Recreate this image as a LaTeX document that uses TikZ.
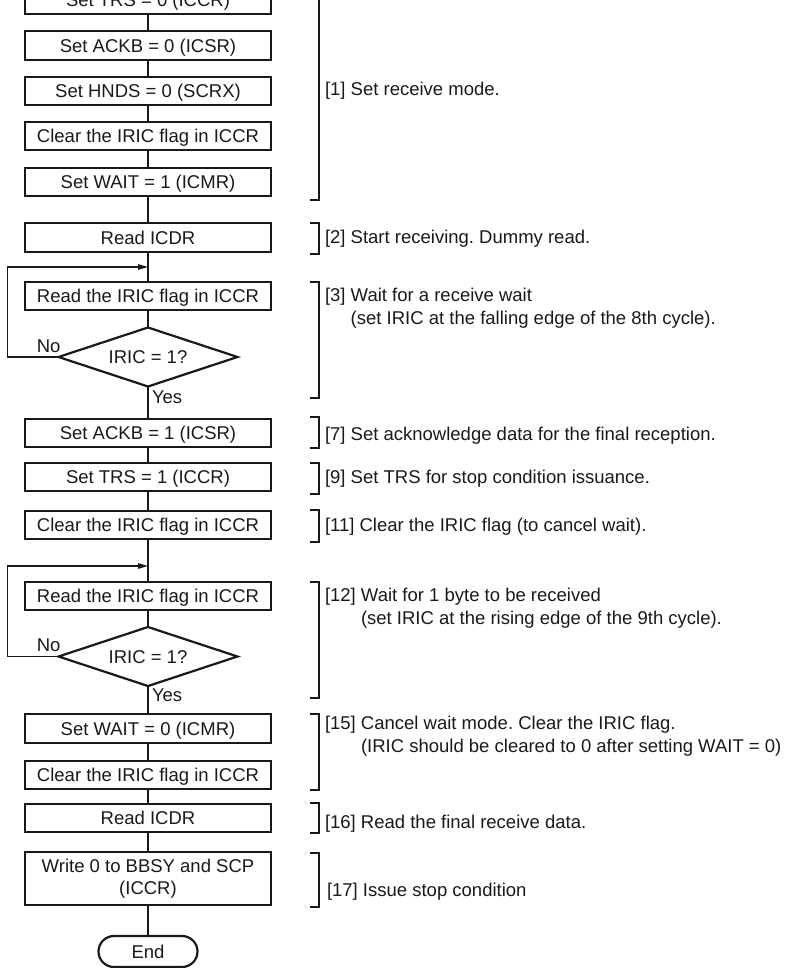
\documentclass[tikz,border=0pt]{standalone}
\usepackage{fontspec}
\setmainfont{Liberation Sans}
\usetikzlibrary{arrows.meta,shapes.geometric}
\frenchspacing
\definecolor{FlowInk}{gray}{0.1}
\tikzset{
    flow/diagram/.style={
        x=1pt, y=-1pt,
        font=\fontsize{18.5}{22.5}\selectfont,
        color=FlowInk,
        text=FlowInk,
        every node/.style={inner sep=0pt, outer sep=0pt}
    },
    flow/process/.style={
        rectangle, draw=FlowInk, line width=2.2pt,
        minimum width=246pt, minimum height=28.5pt,
        text height=13.3pt, text depth=0pt
    },
    flow/decision/.style={
        diamond, draw=FlowInk, line width=2.2pt, shape aspect=3,
        minimum width=179pt, minimum height=59pt,
        text height=13.3pt, text depth=0pt
    },
    flow/terminal/.style={
        rectangle, rounded corners=15.5pt, draw=FlowInk, line width=2.2pt,
        minimum width=99pt, minimum height=31pt,
        text height=13.3pt, text depth=0pt
    },
    flow/line/.style={draw=FlowInk, line width=1.2pt},
    flow/loop/.style={
        draw=FlowInk, line width=1.2pt,
        -{Triangle[length=10pt, width=5.5pt]}
    },
    flow/bracket/.style={draw=FlowInk, line width=1.1pt},
    flow/note/.style={anchor=base west, align=left},
    flow/answer/.style={text height=13.3pt, text depth=0pt}
}

\begin{document}
\begin{tikzpicture}[flow/diagram]
    \useasboundingbox (0,0) rectangle (789,968);
    \clip (0,0) rectangle (789,968);
    % main column
    \node[flow/process] (SetTrsZero)  at (148,0)     {Set TRS = 0 (ICCR)};
    \node[flow/process] (SetAckbZero) at (148,45.5)  {Set ACKB = 0 (ICSR)};
    \node[flow/process] (SetHnds)     at (148,91)    {Set HNDS = 0 (SCRX)};
    \node[flow/process] (ClearIricA)  at (148,136)   {Clear the IRIC flag in ICCR};
    \node[flow/process] (SetWaitOne)  at (148,182)   {Set WAIT = 1 (ICMR)};
    \node[flow/process] (ReadIcdrA)   at (148,237.5) {Read ICDR};
    \coordinate (JoinA) at (148,267);
    \node[flow/process] (ReadIricA)   at (148,296)   {Read the IRIC flag in ICCR};
    \node[flow/decision] (TestIricA)  at (148,357)   {IRIC = 1?};
    \node[flow/process] (SetAckbOne)  at (148,433)   {Set ACKB = 1 (ICSR)};
    \node[flow/process] (SetTrsOne)   at (148,477)   {Set TRS = 1 (ICCR)};
    \node[flow/process] (ClearIricB)  at (148,525)   {Clear the IRIC flag in ICCR};
    \coordinate (JoinB) at (148,566);
    \node[flow/process] (ReadIricB)   at (148,596)   {Read the IRIC flag in ICCR};
    \node[flow/decision] (TestIricB)  at (148,656.5) {IRIC = 1?};
    \node[flow/process] (SetWaitZero) at (148,728.5) {Set WAIT = 0 (ICMR)};
    \node[flow/process] (ClearIricC)  at (148,775)   {Clear the IRIC flag in ICCR};
    \node[flow/process] (ReadIcdrB)   at (148,818)   {Read ICDR};
    \node[flow/process, minimum height=53pt, align=center,
        text height=, text depth=] (WriteStop) at (148,878.5)
        {Write 0 to BBSY and SCP\\(ICCR)};
    \node[flow/terminal] (End) at (148,951.5) {End};
    % connectors
    \draw[flow/line] (SetTrsZero) -- (SetAckbZero);
    \draw[flow/line] (SetAckbZero) -- (SetHnds);
    \draw[flow/line] (SetHnds) -- (ClearIricA);
    \draw[flow/line] (ClearIricA) -- (SetWaitOne);
    \draw[flow/line] (SetWaitOne) -- (ReadIcdrA);
    \draw[flow/line] (ReadIcdrA) -- (ReadIricA);
    \draw[flow/line] (ReadIricA) -- (TestIricA);
    \draw[flow/line] (TestIricA) -- node[pos=0.33, anchor=west, xshift=4pt, flow/answer] {Yes} (SetAckbOne);
    \draw[flow/loop] (TestIricA.west)
        -- node[pos=0, anchor=south east, xshift=2pt, yshift=5pt, flow/answer] {No} ++(-51,0)
        |- (JoinA);
    \draw[flow/line] (SetAckbOne) -- (SetTrsOne);
    \draw[flow/line] (SetTrsOne) -- (ClearIricB);
    \draw[flow/line] (ClearIricB) -- (ReadIricB);
    \draw[flow/line] (ReadIricB) -- (TestIricB);
    \draw[flow/line] (TestIricB) -- node[pos=0.33, anchor=west, xshift=4pt, flow/answer] {Yes} (SetWaitZero);
    \draw[flow/loop] (TestIricB.west)
        -- node[pos=0, anchor=south east, xshift=2pt, yshift=5pt, flow/answer] {No} ++(-51,0)
        |- (JoinB);
    \draw[flow/line] (SetWaitZero) -- (ClearIricC);
    \draw[flow/line] (ClearIricC) -- (ReadIcdrB);
    \draw[flow/line] (ReadIcdrB) -- (WriteStop);
    \draw[flow/line] (WriteStop) -- (End);
    % brackets and notes (two-line notes sit on their last baseline)
    \draw[flow/bracket] (310,-16) -- (319,-16) -- (319,200) -- (310,200);
    \node[flow/note] (NoteOne) at (325,96) {[1] Set receive mode.};
    \draw[flow/bracket] (310,223) -- (319,223) -- (319,254) -- (310,254);
    \node[flow/note] (NoteTwo) at (325,243.5) {[2] Start receiving. Dummy read.};
    \draw[flow/bracket] (310,282) -- (319,282) -- (319,398) -- (310,398);
    \node[flow/note] (NoteThree) at (325,324)
        {[3] Wait for a receive wait\\\hphantom{[3] }(set IRIC at the falling edge of the 8th cycle).};
    \draw[flow/bracket] (310,417) -- (319,417) -- (319,448) -- (310,448);
    \node[flow/note] (NoteSeven) at (325,440.5) {[7] Set acknowledge data for the final reception.};
    \draw[flow/bracket] (310,463) -- (319,463) -- (319,494) -- (310,494);
    \node[flow/note] (NoteNine) at (325,483.5) {[9] Set TRS for stop condition issuance.};
    \draw[flow/bracket] (310,510) -- (319,510) -- (319,542) -- (310,542);
    \node[flow/note] (NoteEleven) at (325,531.5) {[11] Clear the IRIC flag (to cancel wait).};
    \draw[flow/bracket] (310,582) -- (319,582) -- (319,698) -- (310,698);
    \node[flow/note] (NoteTwelve) at (325,624)
        {[12] Wait for 1 byte to be received\\\hphantom{[12] }(set IRIC at the rising edge of the 9th cycle).};
    \draw[flow/bracket] (310,714) -- (319,714) -- (319,790) -- (310,790);
    \node[flow/note] (NoteFifteen) at (325,752)
        {[15] Cancel wait mode. Clear the IRIC flag.\\\hphantom{[15] }(IRIC should be cleared to 0 after setting WAIT = 0)};
    \draw[flow/bracket] (310,803) -- (319,803) -- (319,833) -- (310,833);
    \node[flow/note] (NoteSixteen) at (325,828.5) {[16] Read the final receive data.};
    \draw[flow/bracket] (310,853) -- (319,853) -- (319,907) -- (310,907);
    \node[flow/note] (NoteSeventeen) at (327,896.5) {[17] Issue stop condition};
\end{tikzpicture}
\end{document}
